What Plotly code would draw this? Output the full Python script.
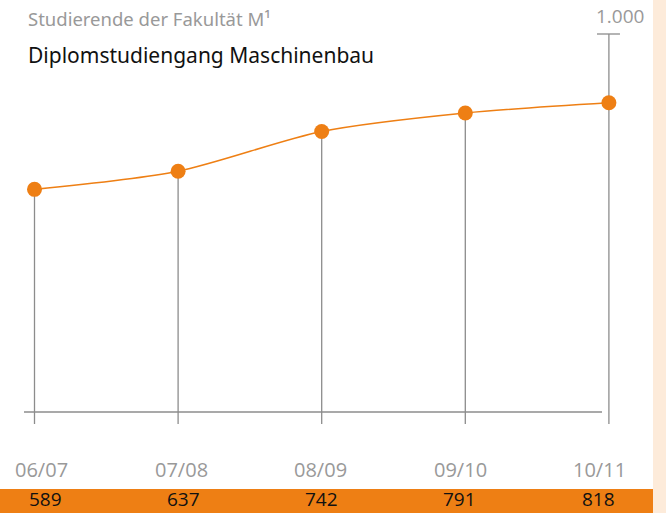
import plotly.graph_objects as go

# Student numbers, diploma programme mechanical engineering
semesters = ["06/07", "07/08", "08/09", "09/10", "10/11"]
students = [589, 637, 742, 791, 818]
axis_max = 1000
axis_max_label = "1.000"

ORANGE = "#EE7F14"
GREY = "#999999"
LINE_GREY = "#8c8c8c"

W, H = 666, 513
# pixel layout of the plotting frame
x0_px, dx_px = 34.5, 143.6          # first category position and spacing
y0_px, y1000_px = 412, 34           # baseline and 1000 mark
ppu = (y0_px - y1000_px) / axis_max  # pixels per student

def yd(px):
    return (y0_px - px) / ppu

def xd(px):
    return (px - x0_px) / dx_px

xs = list(range(len(semesters)))

fig = go.Figure()
fig.add_trace(go.Scatter(
    x=xs, y=students, mode="lines+markers",
    line=dict(color=ORANGE, width=1.6, shape="spline", smoothing=0.8),
    marker=dict(color=ORANGE, size=15),
    hoverinfo="skip", showlegend=False,
))

shapes = []
tick_bottom = yd(424)
# drop lines from each point down below the baseline
for i, v in enumerate(students):
    top = axis_max if i == len(students) - 1 else v
    shapes.append(dict(type="line", xref="x", yref="y", x0=i, x1=i, y0=top, y1=tick_bottom,
                       line=dict(color=LINE_GREY, width=1.3), layer="below"))
# baseline
shapes.append(dict(type="line", xref="x", yref="y", x0=xd(24), x1=xd(602), y0=0, y1=0,
                   line=dict(color=LINE_GREY, width=1.3), layer="below"))
# cross tick at the 1000 mark
last = len(students) - 1
shapes.append(dict(type="line", xref="x", yref="y", x0=last - 0.083, x1=last + 0.077,
                   y0=axis_max, y1=axis_max, line=dict(color=LINE_GREY, width=1.3), layer="below"))
# bottom value band and right side strip
shapes.append(dict(type="rect", xref="paper", yref="paper", x0=0, x1=653 / W, y0=0, y1=(H - 489) / H,
                   fillcolor=ORANGE, line=dict(width=0), layer="below"))
shapes.append(dict(type="rect", xref="paper", yref="paper", x0=653 / W, x1=1, y0=0, y1=1,
                   fillcolor="#FDEBDA", line=dict(width=0), layer="below"))

annotations = []
n = len(semesters)
# the label row and the value table are spread evenly across the band
for i, (s, v) in enumerate(zip(semesters, students)):
    xl = (41.5 + (599.5 - 41.5) * i / (n - 1)) / W
    xv = (45 + (598 - 45) * i / (n - 1)) / W
    annotations.append(dict(x=xl, y=1 - 469 / H, xref="paper", yref="paper", text=s, showarrow=False,
                            xanchor="center", yanchor="middle",
                            font=dict(family="Open Sans", size=20, color=GREY)))
    annotations.append(dict(x=xv, y=1 - 499 / H, xref="paper", yref="paper", text=str(v), showarrow=False,
                            xanchor="center", yanchor="middle",
                            font=dict(family="Open Sans", size=19, color="#111111")))
annotations.append(dict(x=620 / W, y=1 - 16 / H, xref="paper", yref="paper", text=axis_max_label,
                        showarrow=False, xanchor="center", yanchor="middle",
                        font=dict(family="Open Sans", size=19, color=GREY)))
annotations.append(dict(x=26 / W, y=1 - 18 / H, xref="paper", yref="paper", xanchor="left", yanchor="middle",
                        text="Studierende der Fakultät M¹", showarrow=False,
                        font=dict(family="Noto Sans", size=18.5, color=GREY)))
annotations.append(dict(x=26 / W, y=1 - 55 / H, xref="paper", yref="paper", xanchor="left", yanchor="middle",
                        text="Diplomstudiengang Maschinenbau", showarrow=False,
                        font=dict(family="Noto Sans", size=21, color="#111111")))

fig.update_layout(
    width=W, height=H, margin=dict(l=0, r=0, t=0, b=0),
    paper_bgcolor="white", plot_bgcolor="white",
    xaxis=dict(range=[xd(0), xd(W)], visible=False, fixedrange=True),
    yaxis=dict(range=[yd(H), yd(0)], visible=False, fixedrange=True),
    shapes=shapes, annotations=annotations,
)
fig.write_html("out.html")
